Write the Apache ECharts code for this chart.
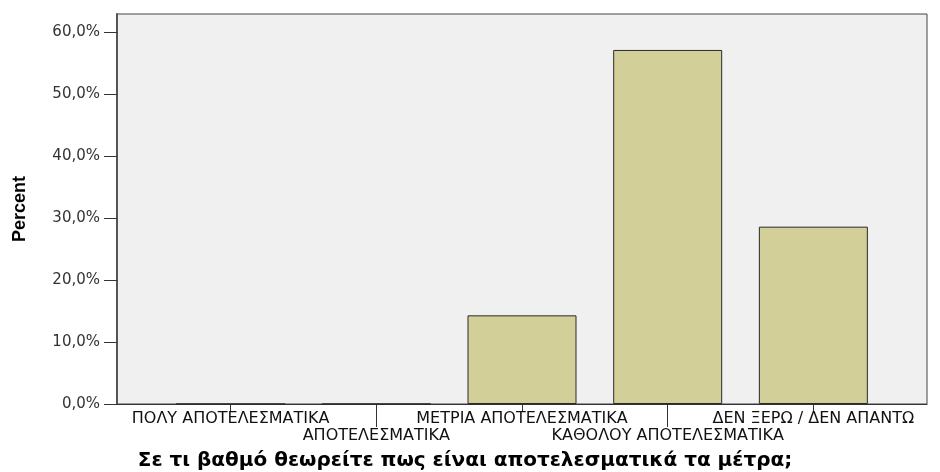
<!DOCTYPE html>
<html>
<head>
<meta charset="utf-8">
<script src="https://cdn.jsdelivr.net/npm/echarts@6/dist/echarts.min.js"></script>
<style>
html,body{margin:0;padding:0;background:#fff;}
#chart{width:940px;height:472px;}
</style>
</head>
<body>
<div id="chart"></div>
<script>
var categories = ["ΠΟΛΥ ΑΠΟΤΕΛΕΣΜΑΤΙΚΑ", "ΑΠΟΤΕΛΕΣΜΑΤΙΚΑ", "ΜΕΤΡΙΑ ΑΠΟΤΕΛΕΣΜΑΤΙΚΑ", "ΚΑΘΟΛΟΥ ΑΠΟΤΕΛΕΣΜΑΤΙΚΑ", "ΔΕΝ ΞΕΡΩ / ΔΕΝ ΑΠΑΝΤΩ"];
var percentValues = [0, 0, 14.3, 57.1, 28.6];
var yTicks = [0, 10, 20, 30, 40, 50, 60];
var xTitle = "Σε τι βαθμό θεωρείτε πως είναι αποτελεσματικά τα μέτρα;";
var yTitle = "Percent";

var evenIdx = [], oddIdx = [];
categories.forEach(function (c, i) { (i % 2 === 0 ? evenIdx : oddIdx).push(i); });

var chart = echarts.init(document.getElementById('chart'), null, {renderer: 'canvas'});
var labelFont = 'DejaVu Sans';
var commonX = {
  type: 'value', min: -0.78, max: 4.78, position: 'bottom', gridIndex: 0,
  splitLine: {show: false}
};
var option = {
  animation: false,
  backgroundColor: '#ffffff',
  grid: {left: 117, right: 13, top: 14, bottom: 68, show: true, containLabel: false,
         outerBoundsMode: 'none',
         backgroundColor: '#f0f0f0', borderColor: '#444', borderWidth: 1},
  graphic: [{
    type: 'text', x: 465, y: 461,
    style: {text: xTitle, font: 'bold 20px "DejaVu Sans"', fill: '#000', align: 'center', verticalAlign: 'middle'}
  }],
  xAxis: [
    Object.assign({}, commonX, {
      axisLine: {show: true, onZero: false, lineStyle: {color: '#333', width: 1}},
      axisTick: {show: true, length: 8, customValues: evenIdx, lineStyle: {color: '#333'}},
      axisLabel: {show: true, customValues: evenIdx, margin: 7, color: '#111',
                  fontFamily: labelFont, fontSize: 16,
                  formatter: function (v) { return categories[Math.round(v)]; }}
    }),
    Object.assign({}, commonX, {
      axisLine: {show: false, onZero: false},
      axisTick: {show: true, length: 23, customValues: oddIdx, lineStyle: {color: '#333'}},
      axisLabel: {show: true, customValues: oddIdx, margin: 24, color: '#111',
                  fontFamily: labelFont, fontSize: 16,
                  formatter: function (v) { return categories[Math.round(v)]; }}
    })
  ],
  yAxis: {
    type: 'value', min: 0, max: 62.9,
    name: yTitle, nameLocation: 'middle', nameGap: 88, nameRotate: 90,
    nameTextStyle: {fontFamily: '"Liberation Sans"', fontWeight: 'bold', fontSize: 18, color: '#000'},
    axisLine: {show: true, onZero: false, lineStyle: {color: '#555', width: 2}},
    axisTick: {show: true, length: 13, customValues: yTicks, lineStyle: {color: '#333'}},
    splitLine: {show: false},
    axisLabel: {customValues: yTicks, margin: 17, color: '#333', fontFamily: labelFont, fontSize: 15,
                formatter: function (v) { return v.toFixed(1).replace('.', ',') + '%'; }}
  },
  series: [{
    type: 'bar',
    xAxisIndex: 0,
    barWidth: 109,
    data: percentValues.map(function (v, i) { return [i, v]; }),
    itemStyle: {color: '#d3cf98', borderColor: '#2a2a2a', borderWidth: 1}
  }]
};
chart.setOption(option);
</script>
</body>
</html>
